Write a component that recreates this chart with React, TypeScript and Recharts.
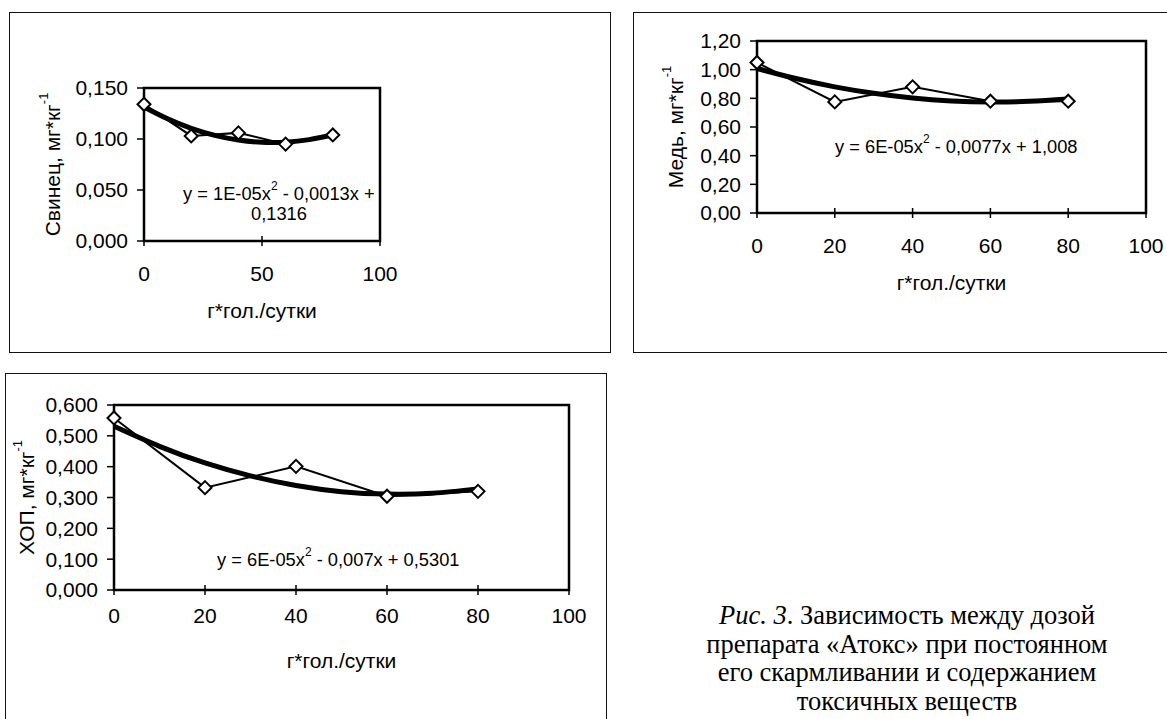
import { LineChart, Line, XAxis, YAxis, ReferenceArea } from "recharts";

const FONT = "'Liberation Sans', Arial, sans-serif";

// дозы препарата, г*гол./сутки
const doses = [0, 20, 40, 60, 80];
const trendDoses = [0, 10, 20, 30, 40, 50, 60, 70, 80];

// Свинец
const leadValues = [0.134, 0.103, 0.106, 0.095, 0.104];
const leadTrend = [0.1314, 0.1198, 0.1105, 0.1036, 0.099, 0.0968, 0.0969, 0.0994, 0.1042];
const leadYTicks = [0, 0.05, 0.1, 0.15];
const leadXTicks = [0, 50, 100];

// Медь
const copperValues = [1.05, 0.775, 0.88, 0.78, 0.78];
const copperTrend = [1.008, 0.938, 0.88, 0.835, 0.802, 0.782, 0.774, 0.779, 0.796];
const copperYTicks = [0, 0.2, 0.4, 0.6, 0.8, 1.0, 1.2];
const copperXTicks = [0, 20, 40, 60, 80, 100];

// ХОП
const hopValues = [0.558, 0.332, 0.401, 0.304, 0.32];
const hopTrend = [0.531, 0.466, 0.412, 0.37, 0.339, 0.319, 0.311, 0.314, 0.328];
const hopYTicks = [0, 0.1, 0.2, 0.3, 0.4, 0.5, 0.6];
const hopXTicks = [0, 20, 40, 60, 80, 100];

const xTitle = "г*гол./сутки";

const toPoints = (xs: number[], ys: number[]) => xs.map((x, i) => ({ x, y: ys[i] }));

const Diamond = (props: any) => {
  const { cx, cy, index } = props;
  if (cx == null || cy == null) return <g key={`e-${index}`} />;
  const r = 6.5;
  return (
    <path
      key={`d-${index}`}
      d={`M${cx},${cy - r} L${cx + r},${cy} L${cx},${cy + r} L${cx - r},${cy} Z`}
      fill="#fff"
      stroke="#000"
      strokeWidth={2}
    />
  );
};

type PanelProps = {
  box: { left: number; top: number; width: number; height: number };
  width: number;
  height: number;
  margin: { top: number; right: number; bottom: number; left: number };
  yAxisWidth: number;
  values: number[];
  trend: number[];
  yTicks: number[];
  xTicks: number[];
  decimals: number;
  yTitle: string;
  yTitleX: number;
  xTickDy: number;
  xTitleDy: number;
  eq: { x: number; y: number; pre: string; post: string; extra?: string; extraX?: number; extraY?: number };
};

function Panel(p: PanelProps) {
  const yMax = p.yTicks[p.yTicks.length - 1];
  const plotTop = p.margin.top;
  const plotBottom = p.height - p.margin.bottom - 40;
  const yMid = (plotTop + plotBottom) / 2;

  const XTick = (t: any) => (
    <g>
      <line x1={t.x} x2={t.x} y1={t.y - 5} y2={t.y + 5} stroke="#000" strokeWidth={1.5} />
      <text
        x={t.x}
        y={t.y + p.xTickDy}
        textAnchor="middle"
        dominantBaseline="central"
        fontSize={21}
        fontFamily={FONT}
        fill="#000"
      >
        {t.payload.value}
      </text>
    </g>
  );

  return (
    <div
      style={{
        position: "absolute",
        left: p.box.left,
        top: p.box.top,
        width: p.box.width,
        height: p.box.height,
        border: "1px solid #111",
        boxSizing: "border-box",
        background: "#fff",
      }}
    >
      <LineChart width={p.width} height={p.height} margin={p.margin}>
        <XAxis
          dataKey="x"
          type="number"
          domain={[0, 100]}
          ticks={p.xTicks}
          axisLine={false}
          tickLine={false}
          tickSize={0}
          tickMargin={0}
          height={40}
          tick={XTick}
          interval={0}
          label={{
            content: (lp: any) => {
              const vb = lp.viewBox || {};
              return (
                <text
                  x={vb.x + vb.width / 2}
                  y={vb.y + p.xTitleDy}
                  textAnchor="middle"
                  dominantBaseline="central"
                  fontSize={21}
                  fontFamily={FONT}
                  fill="#000"
                >
                  {xTitle}
                </text>
              );
            },
          }}
        />
        <YAxis
          type="number"
          domain={[0, yMax]}
          ticks={p.yTicks}
          width={p.yAxisWidth}
          axisLine={false}
          tickLine={{ stroke: "#000", strokeWidth: 1.5 }}
          tickSize={7}
          tickMargin={9}
          interval={0}
          tick={{ fill: "#000", fontSize: 21, fontFamily: FONT }}
          tickFormatter={(v: number) => v.toFixed(p.decimals).replace(".", ",")}
        />
        <ReferenceArea
          x1={0}
          x2={100}
          y1={0}
          y2={yMax}
          fill="none"
          stroke="#000"
          strokeWidth={2.5}
          ifOverflow="visible"
        />
        <Line
          data={toPoints(doses, p.values)}
          dataKey="y"
          type="linear"
          stroke="#000"
          strokeWidth={2}
          dot={Diamond}
          activeDot={false}
          isAnimationActive={false}
        />
        <Line
          data={toPoints(trendDoses, p.trend)}
          dataKey="y"
          type="natural"
          stroke="#000"
          strokeWidth={5}
          dot={false}
          activeDot={false}
          isAnimationActive={false}
        />
        <text
          transform={`rotate(-90, ${p.yTitleX}, ${yMid})`}
          x={p.yTitleX}
          y={yMid}
          textAnchor="middle"
          dominantBaseline="central"
          fontSize={21}
          fontFamily={FONT}
          fill="#000"
        >
          {p.yTitle}
          <tspan fontSize={13} dy={-9}>
            -1
          </tspan>
        </text>
        <text x={p.eq.x} y={p.eq.y} dominantBaseline="central" fontSize={18.3} fontFamily={FONT} fill="#000">
          {p.eq.pre}
          <tspan fontSize={12} dy={-7}>
            2
          </tspan>
          <tspan dy={7}>{p.eq.post}</tspan>
        </text>
        {p.eq.extra && (
          <text
            x={p.eq.extraX}
            y={p.eq.extraY}
            textAnchor="middle"
            dominantBaseline="central"
            fontSize={18.3}
            fontFamily={FONT}
            fill="#000"
          >
            {p.eq.extra}
          </text>
        )}
      </LineChart>
    </div>
  );
}

export default function App() {
  return (
    <div
      style={{
        position: "absolute",
        left: 0,
        top: 0,
        width: 1167,
        height: 719,
        overflow: "hidden",
        background: "#fff",
      }}
    >
      <Panel
        box={{ left: 9, top: 12, width: 602, height: 341 }}
        width={600}
        height={339}
        margin={{ top: 75, right: 230, bottom: 71, left: 0 }}
        yAxisWidth={134}
        values={leadValues}
        trend={leadTrend}
        yTicks={leadYTicks}
        xTicks={leadXTicks}
        decimals={3}
        yTitle="Свинец, мг*кг"
        yTitleX={42}
        xTickDy={32}
        xTitleDy={69}
        eq={{ x: 173, y: 180, pre: "y = 1E-05x", post: " - 0,0013x +", extra: "0,1316", extraX: 269, extraY: 200 }}
      />
      <Panel
        box={{ left: 633, top: 12, width: 545, height: 341 }}
        width={543}
        height={339}
        margin={{ top: 28, right: 31, bottom: 99, left: 0 }}
        yAxisWidth={123}
        values={copperValues}
        trend={copperTrend}
        yTicks={copperYTicks}
        xTicks={copperXTicks}
        decimals={2}
        yTitle="Медь, мг*кг"
        yTitleX={41}
        xTickDy={32}
        xTitleDy={69}
        eq={{ x: 201, y: 133, pre: "y = 6E-05x", post: " - 0,0077x + 1,008" }}
      />
      <Panel
        box={{ left: 5, top: 373, width: 602, height: 362 }}
        width={600}
        height={360}
        margin={{ top: 31, right: 37, bottom: 104, left: 0 }}
        yAxisWidth={108}
        values={hopValues}
        trend={hopTrend}
        yTicks={hopYTicks}
        xTicks={hopXTicks}
        decimals={3}
        yTitle="ХОП, мг*кг"
        yTitleX={20}
        xTickDy={25}
        xTitleDy={70}
        eq={{ x: 211, y: 185, pre: "y = 6E-05x", post: " - 0,007x + 0,5301" }}
      />
      <div
        style={{
          position: "absolute",
          left: 700,
          top: 601,
          width: 414,
          textAlign: "center",
          fontFamily: "'Liberation Serif', 'Times New Roman', serif",
          fontSize: 26.5,
          lineHeight: "28.5px",
          color: "#000",
        }}
      >
        <div>
          <i>Рис. 3</i>. Зависимость между дозой
        </div>
        <div>препарата «Атокс» при постоянном</div>
        <div>его скармливании и содержанием</div>
        <div>токсичных веществ</div>
      </div>
    </div>
  );
}
